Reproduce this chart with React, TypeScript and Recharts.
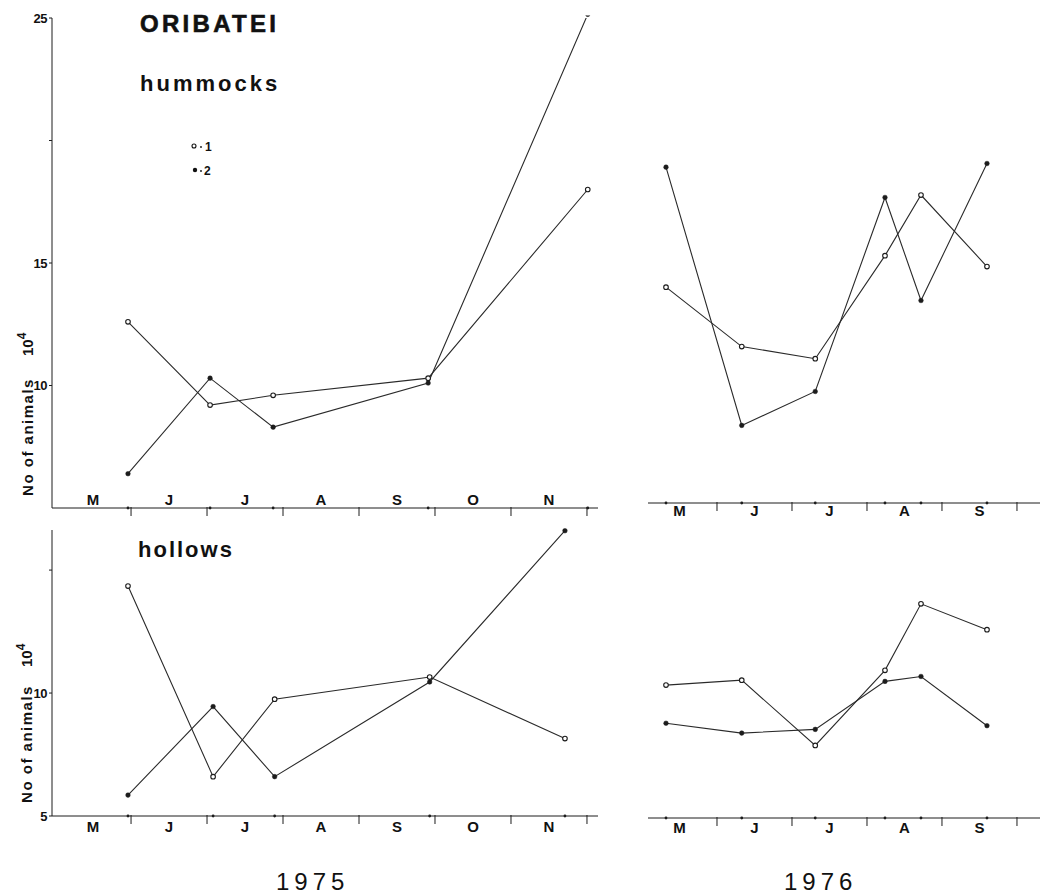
import React from 'react';
import { LineChart, Line, XAxis, YAxis, ReferenceDot } from 'recharts';

const FONT = '"Liberation Sans", Arial, Helvetica, sans-serif';
const INK = '#1c1c1c';

const monthsLeft = ['M', 'J', 'J', 'A', 'S', 'O', 'N'];
const monthsRight = ['M', 'J', 'J', 'A', 'S'];

// sampling dates, in months after 1 May
const dates75hum = [0.96, 2.04, 2.87, 4.91, 7.01];
const dates75hol = [0.96, 2.08, 2.89, 4.93, 6.71];
const dates76 = [0.32, 1.33, 2.31, 3.24, 3.72, 4.6];

// No of animals x 10^4 ; s1 = open circles (1), s2 = filled dots (2)
const hum75s1 = [12.6, 9.2, 9.6, 10.3, 18.0];
const hum75s2 = [6.4, 10.3, 8.3, 10.1, 25.15];
const hol75s1 = [14.35, 6.6, 9.75, 10.65, 8.15];
const hol75s2 = [5.85, 9.45, 6.6, 10.45, 16.6];
const hum76s1 = [13.9, 11.45, 10.95, 15.2, 17.7, 14.75];
const hum76s2 = [18.85, 8.2, 9.6, 17.6, 13.35, 19.0];
const hol76s1 = [10.4, 10.6, 7.95, 11.0, 13.7, 12.65];
const hol76s2 = [8.85, 8.45, 8.6, 10.55, 10.75, 8.75];

const humTicks = [10, 15, 20, 25];
const humLabels: Record<number, string> = { 10: '10', 15: '15', 25: '25' };
const holTicks = [5, 10, 15];
const holLabels: Record<number, string> = { 5: '5', 10: '10' };

type Row = { d: number; s1: number; s2: number };
const rows = (d: number[], a: number[], b: number[]): Row[] =>
  d.map((x, i) => ({ d: x, s1: a[i], s2: b[i] }));

function monthTicks(n: number) {
  const t: number[] = [];
  for (let i = 0; i < n; i++) {
    t.push(i + 0.5);
    t.push(i + 1);
  }
  return t;
}

function monthTick(labels: string[], labelDy: number) {
  return (p: any) => {
    const v = p.payload.value;
    if (Number.isInteger(v)) {
      return <line x1={p.x} x2={p.x} y1={p.y - 1} y2={p.y + 8} stroke={INK} strokeWidth={1} />;
    }
    return (
      <text x={p.x} y={p.y + labelDy} textAnchor="middle" fontSize={15} fontWeight="bold" fill="#111" fontFamily={FONT}>
        {labels[Math.floor(v)]}
      </text>
    );
  };
}

interface PanelProps {
  left: number;
  top: number;
  width: number;
  height: number;
  margin: { top: number; right: number; bottom: number; left: number };
  data: Row[];
  xDomain: [number, number];
  yDomain: [number, number];
  months: string[];
  labelDy: number;
  axisHeight: number;
  yTicks?: number[];
  yLabels?: Record<number, string>;
}

function Panel(p: PanelProps) {
  return (
    <div style={{ position: 'absolute', left: p.left, top: p.top }}>
      <LineChart width={p.width} height={p.height} data={p.data} margin={p.margin}>
        <XAxis
          dataKey="d"
          type="number"
          domain={p.xDomain}
          allowDataOverflow
          ticks={monthTicks(p.months.length)}
          interval={0}
          tickSize={0}
          tickMargin={0}
          height={p.axisHeight}
          axisLine={{ stroke: INK }}
          tickLine={false}
          tick={monthTick(p.months, p.labelDy)}
        />
        {p.yTicks ? (
          <YAxis
            type="number"
            domain={p.yDomain}
            allowDataOverflow
            width={52}
            ticks={p.yTicks}
            interval={0}
            tickSize={3}
            tickMargin={2}
            tickFormatter={(v: number) => (p.yLabels && p.yLabels[v]) || ''}
            tick={{ fontSize: 13, fontWeight: 'bold', fill: '#111', fontFamily: FONT, letterSpacing: -0.5 }}
            axisLine={{ stroke: INK }}
            tickLine={{ stroke: INK }}
          />
        ) : (
          <YAxis hide type="number" domain={p.yDomain} allowDataOverflow />
        )}
        {p.data.map((r) => (
          <ReferenceDot key={r.d} x={r.d} y={p.yDomain[0]} r={1.4} fill={INK} stroke="none" />
        ))}
        <Line
          type="linear"
          dataKey="s1"
          stroke="#2a2a2a"
          strokeWidth={1.1}
          dot={{ r: 2.3, fill: '#fff', stroke: INK, strokeWidth: 1.1, clipDot: false }}
          isAnimationActive={false}
        />
        <Line
          type="linear"
          dataKey="s2"
          stroke="#2a2a2a"
          strokeWidth={1.1}
          dot={{ r: 2.3, fill: INK, stroke: INK, strokeWidth: 0.5, clipDot: false }}
          isAnimationActive={false}
        />
      </LineChart>
    </div>
  );
}

function Overlay() {
  const bold = { fontFamily: FONT, fontWeight: 'bold' as const, fill: '#111' };
  return (
    <svg width={1042} height={894} style={{ position: 'absolute', left: 0, top: 0, pointerEvents: 'none' }}>
      <text x={140} y={32} fontSize={24} letterSpacing={3.3} stroke="#111" strokeWidth={0.6} {...bold}>ORIBATEI</text>
      <text x={140} y={91} fontSize={22} letterSpacing={3} {...bold}>hummocks</text>
      <text x={138} y={557} fontSize={22} letterSpacing={2} {...bold}>hollows</text>

      <circle cx={194} cy={146} r={2} fill="#fff" stroke="#111" strokeWidth={1.1} />
      <circle cx={201} cy={147} r={0.9} fill="#111" />
      <text x={205} y={151} fontSize={12} {...bold}>1</text>
      <circle cx={195} cy={170} r={2.2} fill="#111" />
      <circle cx={201} cy={171} r={0.9} fill="#111" />
      <text x={204} y={175} fontSize={12} {...bold}>2</text>

      <text transform="translate(33,437) rotate(-90)" textAnchor="middle" fontSize={15} letterSpacing={1.5} {...bold}>No of animals</text>
      <text transform="translate(33,356) rotate(-90)" fontSize={15} {...bold}>
        10<tspan dy={-7} fontSize={12}>4</tspan>
      </text>
      <text transform="translate(32,744) rotate(-90)" textAnchor="middle" fontSize={15} letterSpacing={1.5} {...bold}>No of animals</text>
      <text transform="translate(32,667) rotate(-90)" fontSize={15} {...bold}>
        10<tspan dy={-7} fontSize={12}>4</tspan>
      </text>

      <text x={276} y={890} fontSize={24} letterSpacing={5} fontFamily={FONT} fill="#111">1975</text>
      <text x={784} y={890} fontSize={24} letterSpacing={5} fontFamily={FONT} fill="#111">1976</text>
    </svg>
  );
}

export default function App() {
  return (
    <div style={{ position: 'absolute', left: 0, top: 0, width: 1042, height: 894, background: '#fff', overflow: 'hidden' }}>
      <Panel
        left={0}
        top={0}
        width={612}
        height={540}
        margin={{ top: 18, right: 14, bottom: 0, left: 0 }}
        data={rows(dates75hum, hum75s1, hum75s2)}
        xDomain={[-0.04, 7.145]}
        yDomain={[5, 25]}
        months={monthsLeft}
        labelDy={-3}
        axisHeight={32}
        yTicks={humTicks}
        yLabels={humLabels}
      />
      <Panel
        left={0}
        top={520}
        width={612}
        height={330}
        margin={{ top: 10, right: 14, bottom: 0, left: 0 }}
        data={rows(dates75hol, hol75s1, hol75s2)}
        xDomain={[-0.04, 7.145]}
        yDomain={[5, 16.63]}
        months={monthsLeft}
        labelDy={16}
        axisHeight={34}
        yTicks={holTicks}
        yLabels={holLabels}
      />
      <Panel
        left={640}
        top={0}
        width={402}
        height={540}
        margin={{ top: 18, right: 2, bottom: 0, left: 8 }}
        data={rows(dates76, hum76s1, hum76s2)}
        xDomain={[0.08, 5.307]}
        yDomain={[5, 25]}
        months={monthsRight}
        labelDy={13}
        axisHeight={37}
      />
      <Panel
        left={640}
        top={520}
        width={402}
        height={330}
        margin={{ top: 10, right: 2, bottom: 0, left: 8 }}
        data={rows(dates76, hol76s1, hol76s2)}
        xDomain={[0.08, 5.307]}
        yDomain={[5, 16.7]}
        months={monthsRight}
        labelDy={15}
        axisHeight={32}
      />
      <Overlay />
    </div>
  );
}
